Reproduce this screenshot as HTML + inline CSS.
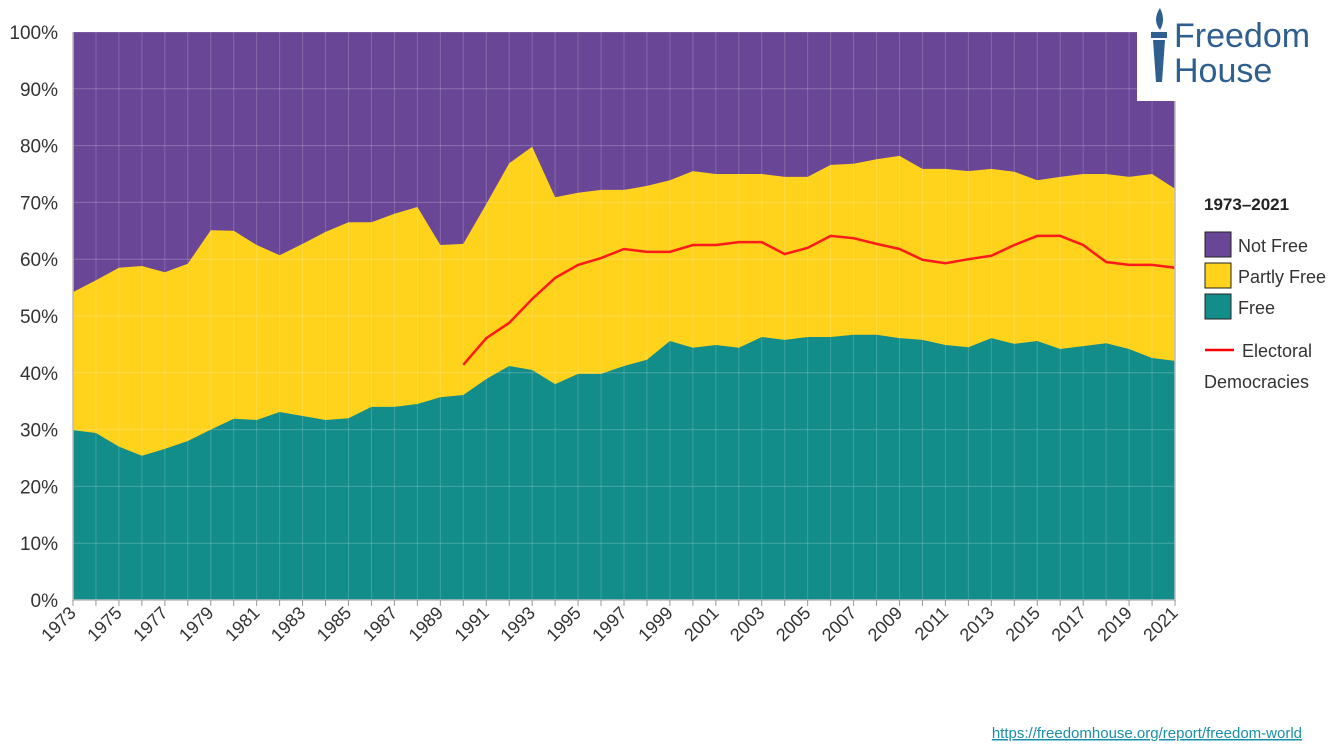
<!DOCTYPE html>
<html><head><meta charset="utf-8"><style>
body{margin:0;background:#fff;font-family:"Liberation Sans",sans-serif;}
svg text{font-family:"Liberation Sans",sans-serif;}
</style></head><body>
<svg id="chart" width="1342" height="745" viewBox="0 0 1342 745">
<g id="plot"></g>
<g id="axes"></g>
<g>
<rect x="1137" y="0" width="205" height="101" fill="#fff"/>
<path d="M1160 8 q-8 12 0 22 q6 -10 0 -22z" fill="#2f5f8f"/>
<rect x="1151" y="32" width="16" height="6" fill="#2f5f8f"/>
<path d="M1153 40 h12 l-3 42 h-6z" fill="#2f5f8f"/>
<text x="1174" y="47" font-size="34" fill="#2f5f8f">Freedom</text>
<text x="1174" y="82" font-size="34" fill="#2f5f8f">House</text>
</g>
<g>
<text x="1204" y="210" font-size="17" font-weight="bold" fill="#222">1973–2021</text>
<rect x="1205" y="232" width="26" height="25" fill="#6a4796" stroke="#222"/>
<text x="1238" y="252" font-size="18" fill="#333">Not Free</text>
<rect x="1205" y="263" width="26" height="25" fill="#ffd21c" stroke="#222"/>
<text x="1238" y="283" font-size="18" fill="#333">Partly Free</text>
<rect x="1205" y="294" width="26" height="25" fill="#138d8a" stroke="#222"/>
<text x="1238" y="314" font-size="18" fill="#333">Free</text>
<line x1="1205" y1="350" x2="1234" y2="350" stroke="#f00" stroke-width="2.5"/>
<text x="1242" y="357" font-size="18" fill="#333">Electoral</text>
<text x="1204" y="388" font-size="18" fill="#333">Democracies</text>
</g>
<text x="1302" y="738" font-size="15" fill="#1a8fa8" text-anchor="end" text-decoration="underline">https://freedomhouse.org/report/freedom-world</text>
</svg>
<script>
const years=[];for(let y=1973;y<=2021;y++)years.push(y);
const freeVals=[29.9,29.4,27,25.4,26.6,28,30,31.9,31.7,33.1,32.4,31.7,32,34,34,34.5,35.7,36.1,38.9,41.2,40.5,38,39.8,39.8,41.2,42.3,45.6,44.4,44.9,44.4,46.3,45.8,46.3,46.3,46.7,46.7,46.1,45.8,44.9,44.5,46.1,45.1,45.6,44.2,44.7,45.2,44.2,42.6,42.1];
const partlyCumVals=[54.2,56.3,58.5,58.8,57.7,59.2,65.1,65,62.5,60.7,62.7,64.8,66.5,66.5,68,69.2,62.5,62.7,69.7,76.9,79.8,70.9,71.7,72.2,72.2,72.9,73.9,75.5,75,75,75,74.5,74.5,76.6,76.8,77.6,78.2,75.9,75.9,75.5,75.9,75.4,73.9,74.5,75,75,74.5,75,72.4];
const edYears=[];for(let y=1990;y<=2021;y++)edYears.push(y);
const edVals=[41.4,46.1,48.8,53,56.7,59,60.2,61.8,61.3,61.3,62.5,62.5,63,63,60.9,62,64.1,63.7,62.7,61.8,59.9,59.3,60,60.6,62.5,64.1,64.1,62.5,59.5,59,59,58.5];
const yTicks=[0,10,20,30,40,50,60,70,80,90,100];
const NS="http://www.w3.org/2000/svg";
const X0=73,X1=1175,Y0=600,Y1=32;
const xs=y=>X0+(y-1973)*(X1-X0)/(2021-1973);
const ys=v=>Y0-v*(Y0-Y1)/100;
function mk(t,a,p){const e=document.createElementNS(NS,t);for(const k in a)e.setAttribute(k,a[k]);p.appendChild(e);return e;}
const plot=document.getElementById('plot'),axes=document.getElementById('axes');
let r=mk('rect',{x:X0,y:Y1,width:X1-X0,height:Y0-Y1,fill:'#6a4796'},plot);


let d='M'+xs(1973)+','+ys(0);years.forEach((y,i)=>d+=' L'+xs(y)+','+ys(partlyCumVals[i]));d+=' L'+xs(2021)+','+ys(0)+'Z';
let p=mk('path',{d:d,fill:'#ffd21c'},plot);


d='M'+xs(1973)+','+ys(0);years.forEach((y,i)=>d+=' L'+xs(y)+','+ys(freeVals[i]));d+=' L'+xs(2021)+','+ys(0)+'Z';
p=mk('path',{d:d,fill:'#138d8a'},plot);


years.forEach(y=>{const l=mk('line',{x1:xs(y),x2:xs(y),y1:Y1,y2:Y0,stroke:'rgba(255,255,255,0.18)','stroke-width':1},plot);

});
yTicks.forEach(v=>{const l=mk('line',{x1:X0,x2:X1,y1:ys(v),y2:ys(v),stroke:'rgba(255,255,255,0.22)','stroke-width':1},plot);


const t=mk('text',{x:58,y:ys(v)+7,'font-size':19,'text-anchor':'end',fill:'#333'},axes);t.textContent=v+'%';

});
d='';edYears.forEach((y,i)=>d+=(i?' L':'M')+xs(y)+','+ys(edVals[i]));
p=mk('path',{d:d,fill:'none',stroke:'#ff1a1a','stroke-width':2.5},plot);


let ax=mk('path',{d:'M'+X0+','+Y1+' V'+Y0+' H'+X1+' V'+Y1,fill:'none',stroke:'#bbb','stroke-width':1.5},axes);


years.forEach(y=>{const tk=mk('line',{x1:xs(y),x2:xs(y),y1:Y0,y2:Y0+6,stroke:'#999'},axes);


if((y-1973)%2===0){const t=mk('text',{x:xs(y)+4,y:Y0+14,'font-size':18,'text-anchor':'end',fill:'#333',transform:'rotate(-45 '+(xs(y)+4)+' '+(Y0+14)+')'},axes);t.textContent=y;

}});
</script>
</body></html>
